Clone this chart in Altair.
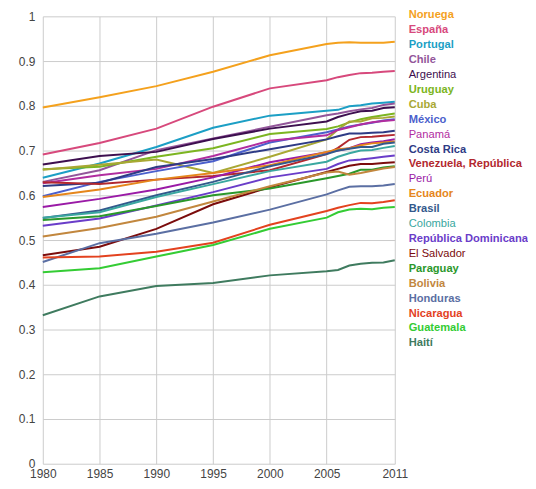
import altair as alt
import pandas as pd

years = [1980, 1985, 1990, 1995, 2000, 2005, 2006, 2007, 2008, 2009, 2010, 2011]

countries = [
    "Noruega", "España", "Portugal", "Chile", "Argentina", "Uruguay", "Cuba",
    "México", "Panamá", "Costa Rica", "Venezuela, República Bolivariana de",
    "Perú", "Ecuador", "Brasil", "Colombia", "República Dominicana",
    "El Salvador", "Paraguay", "Bolivia", "Honduras", "Nicaragua",
    "Guatemala", "Haití",
]

colors = [
    "#f4a11d", "#d7497c", "#1c9fc5", "#93569a", "#3d0f4f", "#7cb521", "#a9a834",
    "#4b5fcc", "#b12d9f", "#2e3b85", "#b2282e",
    "#9a1aa6", "#e5861b", "#33598c", "#3aa7a0", "#6a3dc9",
    "#7b0c0c", "#2b982b", "#c2873e", "#5b6fa3", "#e3421f",
    "#34cc34", "#3f7b5f",
]

noruega = [0.796, 0.819, 0.844, 0.876, 0.913, 0.938, 0.941, 0.942, 0.941, 0.941, 0.941, 0.943]
espana = [0.691, 0.717, 0.749, 0.798, 0.839, 0.857, 0.864, 0.869, 0.873, 0.874, 0.876, 0.878]
portugal = [0.639, 0.671, 0.708, 0.751, 0.778, 0.789, 0.791, 0.799, 0.801, 0.805, 0.807, 0.809]
chile = [0.630, 0.656, 0.701, 0.727, 0.753, 0.779, 0.783, 0.788, 0.792, 0.795, 0.802, 0.805]
argentina = [0.669, 0.688, 0.697, 0.726, 0.749, 0.765, 0.775, 0.782, 0.788, 0.789, 0.795, 0.797]
uruguay = [0.658, 0.664, 0.686, 0.705, 0.737, 0.748, 0.754, 0.763, 0.770, 0.775, 0.779, 0.783]
cuba = [0.657, 0.668, 0.680, 0.650, 0.686, 0.725, 0.747, 0.765, 0.765, 0.772, 0.773, 0.776]
mexico = [0.598, 0.630, 0.654, 0.676, 0.718, 0.741, 0.747, 0.754, 0.758, 0.762, 0.767, 0.770]
panama = [0.627, 0.645, 0.659, 0.688, 0.722, 0.734, 0.746, 0.752, 0.758, 0.763, 0.766, 0.768]
costa_rica = [0.621, 0.628, 0.663, 0.681, 0.703, 0.725, 0.732, 0.738, 0.738, 0.740, 0.741, 0.744]
venezuela = [0.629, 0.625, 0.635, 0.643, 0.656, 0.692, 0.706, 0.724, 0.730, 0.731, 0.733, 0.735]
peru = [0.574, 0.592, 0.613, 0.640, 0.674, 0.696, 0.700, 0.705, 0.714, 0.718, 0.721, 0.725]
ecuador = [0.596, 0.613, 0.635, 0.650, 0.667, 0.697, 0.703, 0.705, 0.712, 0.716, 0.718, 0.720]
brasil = [0.549, 0.566, 0.600, 0.630, 0.665, 0.692, 0.700, 0.704, 0.708, 0.708, 0.715, 0.718]
colombia = [0.550, 0.562, 0.596, 0.625, 0.654, 0.675, 0.686, 0.694, 0.700, 0.701, 0.706, 0.710]
rep_dominicana = [0.532, 0.548, 0.577, 0.607, 0.640, 0.659, 0.670, 0.678, 0.680, 0.683, 0.686, 0.689]
el_salvador = [0.466, 0.485, 0.525, 0.580, 0.618, 0.652, 0.659, 0.666, 0.670, 0.670, 0.672, 0.674]
paraguay = [0.545, 0.553, 0.576, 0.600, 0.615, 0.638, 0.643, 0.648, 0.657, 0.657, 0.662, 0.665]
bolivia = [0.508, 0.527, 0.552, 0.586, 0.620, 0.651, 0.653, 0.646, 0.650, 0.655, 0.660, 0.663]
honduras = [0.451, 0.493, 0.514, 0.539, 0.568, 0.602, 0.611, 0.619, 0.620, 0.620, 0.622, 0.625]
nicaragua = [0.461, 0.463, 0.474, 0.494, 0.534, 0.565, 0.572, 0.578, 0.583, 0.582, 0.585, 0.589]
guatemala = [0.428, 0.437, 0.463, 0.489, 0.525, 0.550, 0.562, 0.568, 0.570, 0.569, 0.572, 0.574]
haiti = [0.332, 0.374, 0.397, 0.404, 0.421, 0.430, 0.433, 0.443, 0.447, 0.449, 0.450, 0.455]

series = [
    noruega, espana, portugal, chile, argentina, uruguay, cuba, mexico, panama,
    costa_rica, venezuela, peru, ecuador, brasil, colombia, rep_dominicana,
    el_salvador, paraguay, bolivia, honduras, nicaragua, guatemala, haiti,
]

x_ticks = [1980, 1985, 1990, 1995, 2000, 2005, 2011]
y_ticks = [0, 0.1, 0.2, 0.3, 0.4, 0.5, 0.6, 0.7, 0.8, 0.9, 1]

normal_weight_labels = ["Argentina", "Panamá", "Perú", "El Salvador", "Colombia"]

rows = []
for name, vals in zip(countries, series):
    for yr, v in zip(years, vals):
        rows.append({"country": name, "year": yr, "value": v})
df = pd.DataFrame(rows)
legend_df = pd.DataFrame({"country": countries})

FONT = "Arial, Liberation Sans, sans-serif"
color_scale = alt.Scale(domain=countries, range=colors)

lines = alt.Chart(df).mark_line(strokeWidth=2).encode(
    x=alt.X(
        "year:Q",
        scale=alt.Scale(domain=[1980, 2011], nice=False, zero=False),
        axis=alt.Axis(
            values=x_ticks, format="d", title=None, ticks=False, domain=False,
            labelFlush=False, labelPadding=5, labelFontSize=12,
            labelColor="#444444", labelFont=FONT, gridColor="#cccccc",
        ),
    ),
    y=alt.Y(
        "value:Q",
        scale=alt.Scale(domain=[0, 1], nice=False),
        axis=alt.Axis(
            values=y_ticks, format=".1~f", title=None, ticks=False, domain=False,
            labelFlush=False, labelPadding=8, labelFontSize=12,
            labelColor="#444444", labelFont=FONT, gridColor="#cccccc",
        ),
    ),
    color=alt.Color("country:N", scale=color_scale, legend=None),
).properties(width=354, height=450)

leg_base = alt.Chart(legend_df).encode(
    x=alt.value(0),
    y=alt.Y("country:N", scale=alt.Scale(domain=countries, type="point", padding=0), axis=None),
    text="country:N",
    color=alt.Color("country:N", scale=color_scale, legend=None),
)
leg_bold = leg_base.mark_text(
    align="left", baseline="middle", fontSize=11.2, fontWeight="bold", font=FONT,
    dy=-1, limit=120, ellipsis="\u200b",
).transform_filter(~alt.FieldOneOfPredicate(field="country", oneOf=normal_weight_labels))
leg_normal = leg_base.mark_text(
    align="left", baseline="middle", fontSize=11.2, fontWeight="normal", font=FONT,
    dy=-1, limit=120, ellipsis="\u200b",
).transform_filter(alt.FieldOneOfPredicate(field="country", oneOf=normal_weight_labels))

legend_chart = alt.layer(leg_bold, leg_normal).properties(width=110, height=330)

chart = alt.hconcat(lines, legend_chart, spacing=14, bounds="flush").properties(
    padding={"top": 0, "left": 10, "right": 0, "bottom": 0}
).configure_view(strokeWidth=0)

chart.save("out.html", embed_options={"renderer": "svg", "actions": False})
